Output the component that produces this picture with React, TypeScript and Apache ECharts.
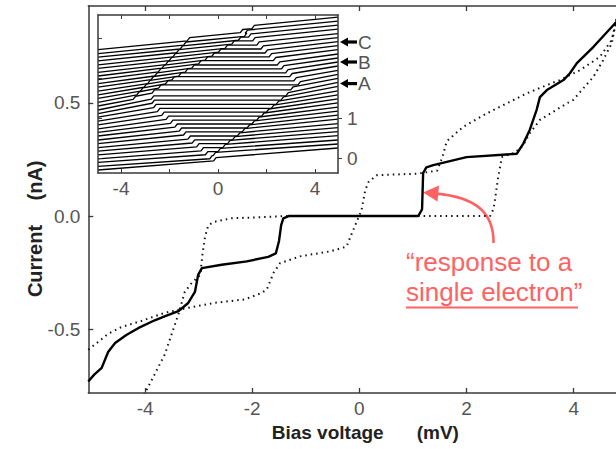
import React, { useEffect, useRef } from "react";
import * as echarts from "echarts";

// ---------- data ----------
const biasTicks = [-4, -2, 0, 2, 4];
const currentTicks = [-0.5, 0, 0.5];
const insetXTicks = [-4, 0, 4];
const insetXMinorTicks = [-4, -2, 0, 2, 4];
const insetYLabels = [0, 1];
const insetYTicks = [0, 1, 2, 3];

// solid trace (curve B)
const traceB: number[][] = [
  [-5.06, -0.73], [-4.95, -0.7], [-4.81, -0.67], [-4.69, -0.6], [-4.56, -0.56],
  [-4.35, -0.525], [-4.13, -0.495], [-3.82, -0.46], [-3.6, -0.44], [-3.38, -0.42],
  [-3.2, -0.385], [-3.07, -0.335], [-3.01, -0.26], [-2.94, -0.23], [-2.57, -0.215],
  [-2.1, -0.2], [-1.7, -0.18], [-1.56, -0.165], [-1.5, -0.11], [-1.46, -0.04],
  [-1.42, -0.01], [-1.32, 0], [1.1, 0], [1.17, 0.03], [1.19, 0.19], [1.25, 0.215],
  [1.38, 0.225], [2.0, 0.26], [2.94, 0.275], [3.06, 0.32], [3.18, 0.38],
  [3.31, 0.47], [3.37, 0.525], [3.5, 0.556], [3.81, 0.6], [3.93, 0.63],
  [4.06, 0.675], [4.37, 0.747], [4.77, 0.85], [4.9, 0.88],
];

// dotted trace (curve A)
const traceA: number[][] = [
  [-4.02, -0.79], [-3.63, -0.61], [-3.51, -0.525], [-3.38, -0.435], [-3.26, -0.335],
  [-3.13, -0.295], [-2.97, -0.26], [-2.93, -0.17], [-2.88, -0.09], [-2.82, -0.04],
  [-2.7, -0.025], [-2.39, -0.01], [-1.8, -0.005], [-1.4, 0], [2.44, 0],
  [2.5, 0.03], [2.53, 0.07], [2.59, 0.17], [2.66, 0.26], [2.9, 0.28],
  [3.05, 0.31], [3.18, 0.365], [3.37, 0.424], [3.87, 0.497], [3.99, 0.512],
  [4.37, 0.615], [4.55, 0.688], [4.71, 0.762], [4.8, 0.87],
];

// dotted trace (curve C)
const traceC: number[][] = [
  [-5.06, -0.59], [-4.69, -0.52], [-4.44, -0.49], [-4.07, -0.463], [-3.63, -0.427],
  [-3.2, -0.405], [-2.7, -0.383], [-2.14, -0.368], [-1.83, -0.34], [-1.73, -0.325],
  [-1.6, -0.25], [-1.48, -0.208], [-1.11, -0.178], [-0.55, -0.156], [-0.24, -0.135],
  [-0.14, -0.076], [-0.05, -0.025], [0.04, 0.026], [0.11, 0.114], [0.17, 0.15],
  [0.32, 0.18], [1.07, 0.187], [1.45, 0.2], [1.55, 0.26], [1.63, 0.33],
  [1.94, 0.394], [2.38, 0.453], [2.75, 0.497], [3.12, 0.541], [3.5, 0.578],
  [3.74, 0.6], [4.12, 0.644], [4.49, 0.703], [4.71, 0.777], [4.8, 0.87],
];

const curveLabels = [
  { name: "A", value: [-3.23, -0.095] },
  { name: "B", value: [-1.81, -0.095] },
  { name: "C", value: [-0.42, -0.095] },
];

// inset: 33 staircase traces, bottom to top
const insetLeft = [
  -0.3, -0.21, -0.11, -0.02, 0.08, 0.17, 0.26, 0.36, 0.45, 0.55, 0.64,
  0.73, 0.83, 0.92, 1.02, 1.11, 1.2, 1.3, 1.39, 1.49, 1.58, 1.67,
  1.77, 1.86, 1.96, 2.05, 2.14, 2.24, 2.33, 2.43, 2.52, 2.61, 2.71,
];
const insetRight = [
  0.25, 0.35, 0.45, 0.56, 0.66, 0.76, 0.86, 0.97, 1.07, 1.17, 1.27,
  1.38, 1.48, 1.58, 1.68, 1.79, 1.89, 1.99, 2.09, 2.19, 2.3, 2.4,
  2.5, 2.6, 2.71, 2.81, 2.91, 3.01, 3.11, 3.22, 3.32, 3.42, 3.52,
];
// bias positions of the current steps in each trace
const insetSteps: number[][] = [
  [-0.18], [-0.34, -0.2], [-0.52, 0.0], [-0.7, 0.2], [-0.88, 0.4],
  [-1.06, 0.6], [-1.24, 0.8], [-1.42, 1.0], [-1.6, 1.2], [-1.78, 1.4],
  [-1.96, 1.6], [-2.14, 1.8], [-2.32, 2.0], [-2.5, 2.2], [-2.65, 2.4],
  [-2.72, 2.6], [-2.75, 2.8], [-3.5, -2.72, 3.0], [-3.35, -2.45, 3.3], [-3.2, -2.17, 3.13],
  [-3.05, -1.9, 2.96], [-2.9, -1.62, 2.79], [-2.76, -1.35, 2.62], [-2.61, -1.08, 2.45], [-2.46, -0.8, 2.28],
  [-2.31, -0.53, 2.11], [-2.16, -0.25, 1.94], [-2.01, 0.02, 1.77], [-1.86, 0.29, 1.6], [-1.71, 0.57, 1.43],
  [-1.56, 0.84, 1.26], [-1.42, 1.09, 1.12], [-1.27, 0.92, 1.4],
];
// Coulomb-blockade plateau (flat part) of each trace, null when closed
const insetFlat: (number[] | null)[] = [
  null, [-0.34, -0.2], [-0.52, 0.0], [-0.7, 0.2], [-0.88, 0.4],
  [-1.06, 0.6], [-1.24, 0.8], [-1.42, 1.0], [-1.6, 1.2], [-1.78, 1.4],
  [-1.96, 1.6], [-2.14, 1.8], [-2.32, 2.0], [-2.5, 2.2], [-2.65, 2.4],
  [-2.72, 2.6], [-2.75, 2.8], [-2.72, 3.0], [-2.45, 3.3], [-2.17, 3.13],
  [-1.9, 2.96], [-1.62, 2.79], [-1.35, 2.62], [-1.08, 2.45], [-0.8, 2.28],
  [-0.53, 2.11], [-0.25, 1.94], [0.02, 1.77], [0.29, 1.6], [0.57, 1.43],
  [0.84, 1.26], null, null,
];
const INSET_STEP = 0.08;

const insetMarkers = [
  { name: "A", y: 1.86 },
  { name: "B", y: 2.4 },
  { name: "C", y: 2.9 },
];

// ---------- layout ----------
const MAIN = { left: 88.3, top: 6, width: 527.7, height: 387 };
const XR = [-5.06, 4.79];
const YR = [-0.781, 0.927];
const INSET = { left: 98, top: 15, width: 240, height: 158 };
const IX = [-4.95, 4.95];
const IY = [-0.375, 3.575];
const GRAY = "#555";
const AXIS = "#3a3a3a";
const RED = "#ff6262";
const FONT = "Liberation Sans, Arial, sans-serif";

const insetYpx = (v: number) =>
  INSET.top + (INSET.height * (IY[1] - v)) / (IY[1] - IY[0]);

function buildTrace(k: number) {
  const L = insetLeft[k];
  const R = insetRight[k];
  const steps = insetSteps[k];
  const flat = insetFlat[k];
  const w = 0.1;
  const span = IX[1] - IX[0];
  const flatLen = flat ? flat[1] - (flat[0] + w) : 0;
  const slopeLen = span - flatLen - steps.length * w;
  const slope = (R - L - steps.length * INSET_STEP) / slopeLen;
  const pts: number[][] = [[IX[0], L]];
  let x = IX[0];
  let y = L;
  const advance = (to: number) => {
    const inFlat = flat ? x >= flat[0] - 1e-6 && to <= flat[1] + 1e-6 : false;
    if (!inFlat) y += slope * (to - x);
    x = to;
    pts.push([x, y]);
  };
  steps.forEach((s) => {
    advance(s);
    y += INSET_STEP;
    x = s + w;
    pts.push([x, y]);
  });
  advance(IX[1]);
  return pts;
}

function insetSeries() {
  return insetLeft.map((_, k) => ({
    type: "line",
    xAxisIndex: 2,
    yAxisIndex: 1,
    data: buildTrace(k),
    showSymbol: false,
    silent: true,
    clip: true,
    z: 7,
    lineStyle: { color: "#000", width: 1.3 },
  }));
}

export default function App() {
  const ref = useRef<HTMLDivElement>(null);
  useEffect(() => {
    if (!ref.current) return;
    const chart = echarts.init(ref.current, undefined, { renderer: "svg" });
    const tickLabel = { color: GRAY, fontSize: 19, fontFamily: FONT };
    const axLine = { show: true, onZero: false, lineStyle: { color: AXIS, width: 1.5 } };
    const inLine = { show: true, onZero: false, lineStyle: { color: AXIS, width: 1.5 } };

    const markerGraphics: any[] = [];
    insetMarkers.forEach((m) => {
      const y = insetYpx(m.y);
      markerGraphics.push({
        type: "polygon",
        shape: { points: [[340, y], [348, y - 4.5], [348, y + 4.5]] },
        style: { fill: "#000" },
      });
      markerGraphics.push({
        type: "rect",
        shape: { x: 347, y: y - 1.6, width: 10, height: 3.2 },
        style: { fill: "#000" },
      });
      markerGraphics.push({
        type: "text",
        x: 358,
        y: y,
        style: { text: m.name, fill: GRAY, fontSize: 19, fontFamily: FONT, verticalAlign: "middle", align: "left" },
      });
    });

    chart.setOption({
      animation: false,
      backgroundColor: "#fff",
      grid: [
        { ...MAIN, containLabel: false },
        { ...INSET, containLabel: false, show: true, backgroundColor: "#fff", borderWidth: 0, z: 5 },
      ],
      xAxis: [
        {
          gridIndex: 0, type: "value", min: XR[0], max: XR[1], position: "bottom",
          axisLine: axLine,
          axisTick: { show: true, inside: true, length: 5, customValues: biasTicks, lineStyle: { color: AXIS, width: 1.3 } },
          axisLabel: { ...tickLabel, margin: 6, customValues: biasTicks, formatter: (v: number) => String(v) },
          splitLine: { show: false },
        },
        {
          gridIndex: 0, type: "value", min: XR[0], max: XR[1], position: "top",
          axisLine: axLine,
          axisTick: { show: true, inside: true, length: 5, customValues: biasTicks, lineStyle: { color: AXIS, width: 1.3 } },
          axisLabel: { show: false },
          splitLine: { show: false },
        },
        {
          gridIndex: 1, type: "value", min: IX[0], max: IX[1], position: "bottom", z: 8,
          axisLine: inLine,
          axisTick: { show: true, inside: true, length: 4, customValues: insetXMinorTicks, lineStyle: { color: AXIS } },
          axisLabel: { ...tickLabel, margin: 6, customValues: insetXTicks, formatter: (v: number) => String(v) },
          splitLine: { show: false },
        },
        {
          gridIndex: 1, type: "value", min: IX[0], max: IX[1], position: "top", z: 8,
          axisLine: inLine,
          axisTick: { show: true, inside: true, length: 4, customValues: insetXMinorTicks, lineStyle: { color: AXIS } },
          axisLabel: { show: false },
          splitLine: { show: false },
        },
      ],
      yAxis: [
        {
          gridIndex: 0, type: "value", min: YR[0], max: YR[1], position: "left",
          axisLine: axLine,
          axisTick: { show: true, inside: true, length: 5, customValues: currentTicks, lineStyle: { color: AXIS, width: 1.3 } },
          axisLabel: { ...tickLabel, margin: 8, customValues: currentTicks, formatter: (v: number) => v.toFixed(1) },
          splitLine: { show: false },
        },
        {
          gridIndex: 1, type: "value", min: IY[0], max: IY[1], position: "left", z: 8,
          axisLine: inLine,
          axisTick: { show: true, inside: true, length: 4, customValues: insetYTicks, lineStyle: { color: AXIS } },
          axisLabel: { show: false },
          splitLine: { show: false },
        },
        {
          gridIndex: 1, type: "value", min: IY[0], max: IY[1], position: "right", z: 8,
          axisLine: inLine,
          axisTick: { show: true, inside: false, length: 4, customValues: insetYLabels, lineStyle: { color: AXIS } },
          axisLabel: { ...tickLabel, margin: 9, customValues: insetYLabels, formatter: (v: number) => String(v) },
          splitLine: { show: false },
        },
      ],
      series: [
        {
          type: "line", xAxisIndex: 0, yAxisIndex: 0, data: traceC, showSymbol: false,
          lineStyle: { color: "#111", width: 2, type: [1.5, 4] }, clip: true,
        },
        {
          type: "line", xAxisIndex: 0, yAxisIndex: 0, data: traceA, showSymbol: false,
          lineStyle: { color: "#111", width: 2, type: [1.5, 4] }, clip: true,
        },
        {
          type: "line", xAxisIndex: 0, yAxisIndex: 0, data: traceB, showSymbol: false,
          lineStyle: { color: "#000", width: 2.4 }, clip: true,
        },
        {
          type: "scatter", xAxisIndex: 0, yAxisIndex: 0, data: curveLabels, symbolSize: 1,
          itemStyle: { opacity: 0 },
          label: { show: true, position: "inside", formatter: (p: any) => p.name, color: GRAY, fontSize: 16, fontFamily: FONT },
        },
        ...insetSeries(),
      ],
      graphic: [
        {
          type: "text", x: 271.7, y: 432,
          style: { text: "Bias voltage", fill: "#222", fontSize: 19, fontWeight: "bold", fontFamily: FONT, verticalAlign: "middle", align: "left" },
        },
        {
          type: "text", x: 416.7, y: 432,
          style: { text: "(mV)", fill: "#222", fontSize: 19, fontWeight: "bold", fontFamily: FONT, verticalAlign: "middle", align: "left" },
        },
        {
          type: "text", x: 34.5, y: 261, rotation: Math.PI / 2,
          style: { text: "Current", fill: "#222", fontSize: 20, fontWeight: "bold", fontFamily: FONT, verticalAlign: "middle", align: "center" },
        },
        {
          type: "text", x: 34.5, y: 180.5, rotation: Math.PI / 2,
          style: { text: "(nA)", fill: "#222", fontSize: 20, fontWeight: "bold", fontFamily: FONT, verticalAlign: "middle", align: "center" },
        },
        {
          type: "text", x: 406, y: 275,
          style: { text: "\u201cresponse to a", fill: RED, fontSize: 26, fontFamily: FONT, verticalAlign: "bottom", align: "left" },
        },
        {
          type: "text", x: 406, y: 305,
          style: { text: "single electron\u201d", fill: RED, fontSize: 26, fontFamily: FONT, verticalAlign: "bottom", align: "left" },
        },
        {
          type: "line", shape: { x1: 406, y1: 307.5, x2: 578, y2: 307.5 },
          style: { stroke: RED, lineWidth: 1.8 },
        },
        {
          type: "bezierCurve",
          shape: { x1: 493.5, y1: 243, cpx1: 494, cpy1: 212, cpx2: 475, cpy2: 197, x2: 436, y2: 193.6 },
          style: { stroke: RED, lineWidth: 2.6, fill: "none" },
        },
        {
          type: "polygon",
          shape: { points: [[423, 192.5], [439, 185.5], [437.5, 201.5]] },
          style: { fill: RED },
        },
        ...markerGraphics,
      ],
    });
    return () => chart.dispose();
  }, []);
  return <div ref={ref} style={{ position: "absolute", left: 0, top: 0, width: 616, height: 449 }} />;
}
